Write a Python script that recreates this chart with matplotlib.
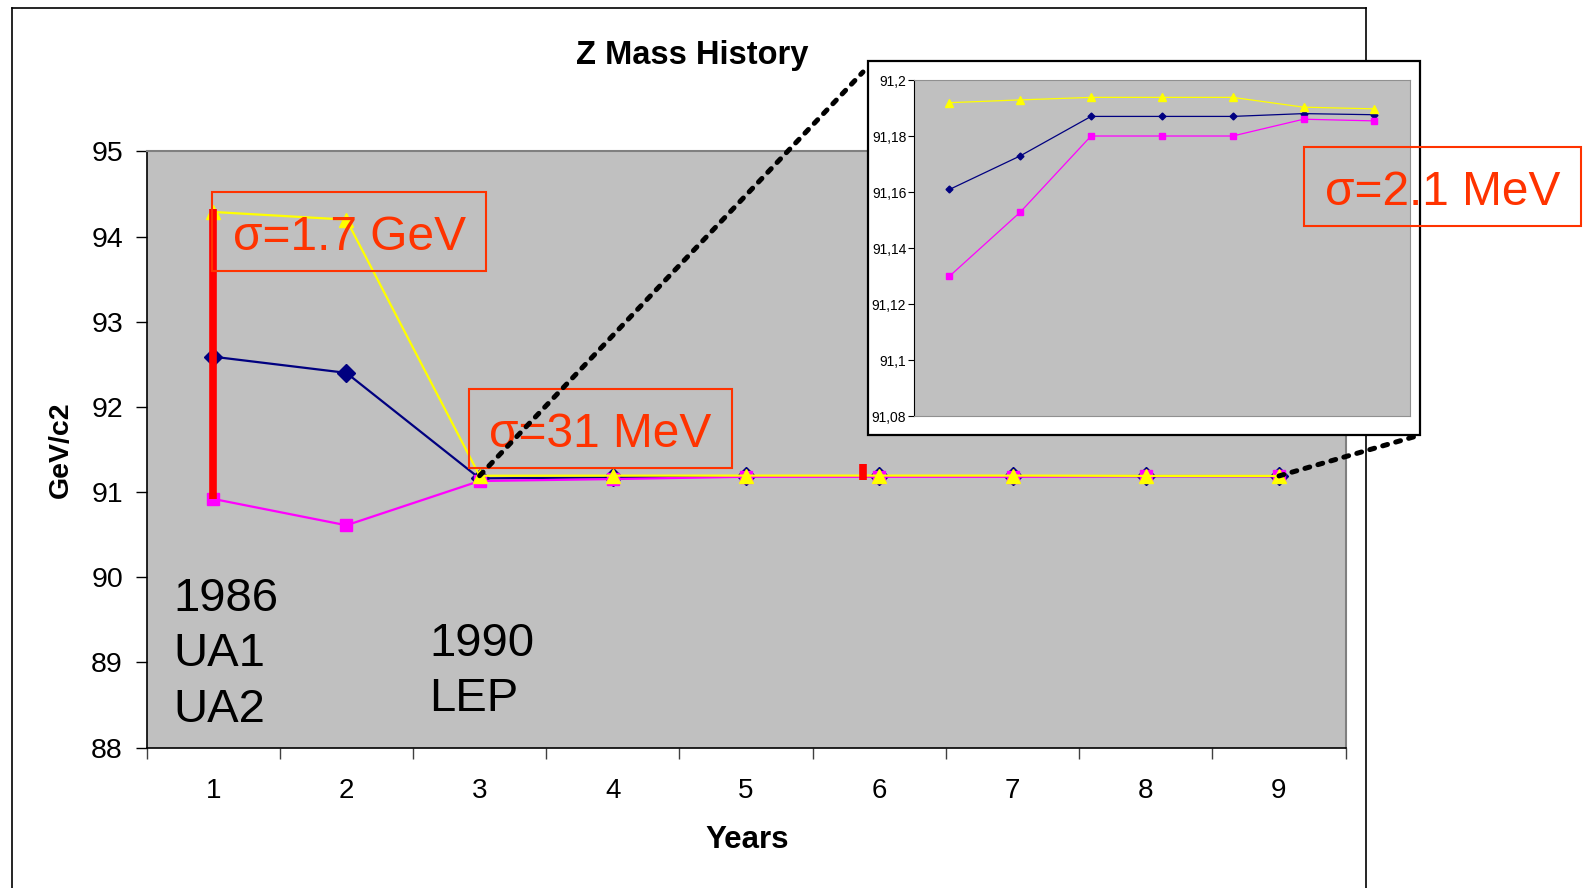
import matplotlib
matplotlib.use("Agg")
import matplotlib.pyplot as plt
from matplotlib.patches import Rectangle, ConnectionPatch
from matplotlib.lines import Line2D
from matplotlib.ticker import FixedLocator, NullFormatter

plt.rcParams["font.family"] = ["Liberation Sans", "DejaVu Sans"]

# Z mass measurements (GeV/c2): UA1/UA2 era then LEP years
years = [1, 2, 3, 4, 5, 6, 7, 8, 9]
lep_years = [1, 2, 3, 4, 5, 6, 7]

navy_ua = [92.59, 92.40]
magenta_ua = [90.92, 90.61]
yellow_ua = [94.29, 94.20]

navy_lep = [91.1609, 91.1729, 91.1870, 91.1870, 91.1870, 91.1880, 91.1876]
magenta_lep = [91.1299, 91.1528, 91.1800, 91.1800, 91.1800, 91.1860, 91.1854]
yellow_lep = [91.1919, 91.1929, 91.1938, 91.1938, 91.1938, 91.1903, 91.1897]

navy = navy_ua + navy_lep
magenta = magenta_ua + magenta_lep
yellow = yellow_ua + yellow_lep

# spread bars (x, low, high)
bar_x = [1, 5.875]
bar_lo = [90.92, 91.14]
bar_hi = [94.33, 91.33]

y_ticks = [88, 89, 90, 91, 92, 93, 94, 95]
inset_ticks = [91.08, 91.10, 91.12, 91.14, 91.16, 91.18, 91.20]
inset_labels = ["91,08", "91,1", "91,12", "91,14", "91,16", "91,18", "91,2"]

SIGMA = "#FF3300"

fig = plt.figure(figsize=(15.84, 8.88), dpi=100)

# outer slide frame (left, top, right edges)
fx0, fx1, fy1 = 0.0077, 0.8623, 0.9909
for xs, ys in [([fx0, fx0], [0, fy1]), ([fx0, fx1], [fy1, fy1]), ([fx1, fx1], [0, fy1])]:
    fig.add_artist(Line2D(xs, ys, color="black", lw=1.2, zorder=0.5))

# main chart
ax = fig.add_axes([0.0925, 0.1582, 0.757, 0.6712], zorder=1)
ax.set_facecolor("#C0C0C0")
ax.set_xlim(0.5, 9.5)
ax.set_ylim(88, 95)
ax.set_yticks(y_ticks)
ax.xaxis.set_major_locator(FixedLocator([x + 0.5 for x in range(10)]))
ax.xaxis.set_major_formatter(NullFormatter())
ax.xaxis.set_minor_locator(FixedLocator(years))
ax.set_xticklabels([str(y) for y in years], minor=True)
ax.tick_params(axis="x", which="major", length=8, width=1, color="#404040")
ax.tick_params(axis="x", which="minor", length=0, pad=22, labelsize=20)
ax.tick_params(axis="y", length=8, width=1, pad=9, labelsize=20.5)
for side in ["left", "bottom"]:
    ax.spines[side].set_color("black")
    ax.spines[side].set_linewidth(1.2)
for side in ["top", "right"]:
    ax.spines[side].set_color("#808080")
    ax.spines[side].set_linewidth(1.5)

ax.plot(years, navy, color="#000080", lw=1.6, marker="D", ms=9, zorder=3)
ax.plot(years, magenta, color="#FF00FF", lw=1.6, marker="s", ms=8, zorder=3)
ax.plot(years, yellow, color="#FFFF00", lw=1.6, marker="^", ms=10, zorder=4)
ax.vlines(bar_x, bar_lo, bar_hi, color="#FF0000", lw=5.5, zorder=5)

ax.text(0.705, 90.0, "1986\nUA1\nUA2", fontsize=34, va="top", ha="left", linespacing=1.33)
ax.text(2.623, 89.48, "1990\nLEP", fontsize=34, va="top", ha="left", linespacing=1.33)

# sigma labels in boxes
for (x0, x1, y0, y1, label) in [(0.993, 3.047, 93.60, 94.526, "σ=1.7 GeV"),
                                 (2.918, 4.897, 91.287, 92.212, "σ=31 MeV")]:
    ax.add_patch(Rectangle((x0, y0), x1 - x0, y1 - y0, fill=False,
                           edgecolor=SIGMA, lw=1.5, zorder=6))
    ax.text((x0 + x1) / 2, (y0 + y1) / 2 - 0.07, label, color=SIGMA, fontsize=34.5,
            ha="center", va="center", zorder=6)

fig.text(0.4369, 0.9374, "Z Mass History", fontsize=23.5, weight="bold", ha="center", va="center")
fig.text(0.0383, 0.4937, "GeV/c2", fontsize=20.5, weight="bold", rotation=90, ha="center", va="center")
fig.text(0.472, 0.0546, "Years", fontsize=22.5, weight="bold", ha="center", va="center")

# zoomed LEP inset
bx0, by0, bx1, by1 = 0.548, 0.5101, 0.8965, 0.9313
fig.add_artist(Rectangle((bx0, by0), bx1 - bx0, by1 - by0, transform=fig.transFigure,
                         facecolor="white", edgecolor="black", lw=1.6, zorder=2))
ins = fig.add_axes([0.577, 0.5315, 0.313, 0.3784], zorder=3)
ins.set_facecolor("#C0C0C0")
ins.set_xlim(0.5, 7.5)
ins.set_ylim(91.08, 91.2)
ins.set_xticks([])
ins.set_yticks(inset_ticks)
ins.set_yticklabels(inset_labels)
ins.tick_params(axis="y", length=4, width=0.8, pad=1.5, labelsize=10)
for side in ["top", "right", "bottom"]:
    ins.spines[side].set_color("#909090")
ins.spines["left"].set_color("black")
ins.spines["left"].set_linewidth(0.8)

ins.plot(lep_years, navy_lep, color="#000080", lw=0.9, marker="D", ms=3.5)
ins.plot(lep_years, magenta_lep, color="#FF00FF", lw=0.9, marker="s", ms=4.5)
ins.plot(lep_years, yellow_lep, color="#FFFF00", lw=0.9, marker="^", ms=5.5)

# dotted zoom connectors
for x, y, fx, fy in [(3, yellow[2], 0.5448, 0.9189), (9, yellow[8], 0.8965, 0.5101)]:
    con = ConnectionPatch(xyA=(x, y), coordsA=ax.transData, xyB=(fx, fy),
                          coordsB=fig.transFigure, color="black", lw=3.6,
                          linestyle=(0, (1, 1.7)), zorder=7)
    fig.add_artist(con)

# sigma label for the LEP era
sx0, sx1, sy0, sy1 = 0.8233, 0.9981, 0.7452, 0.8339
fig.add_artist(Rectangle((sx0, sy0), sx1 - sx0, sy1 - sy0, transform=fig.transFigure,
                         fill=False, edgecolor=SIGMA, lw=1.5, zorder=8))
fig.text((sx0 + sx1) / 2, (sy0 + sy1) / 2 - 0.006, "σ=2.1 MeV", color=SIGMA, fontsize=34.5,
         ha="center", va="center", zorder=8)

fig.savefig("out.png", dpi=100)
